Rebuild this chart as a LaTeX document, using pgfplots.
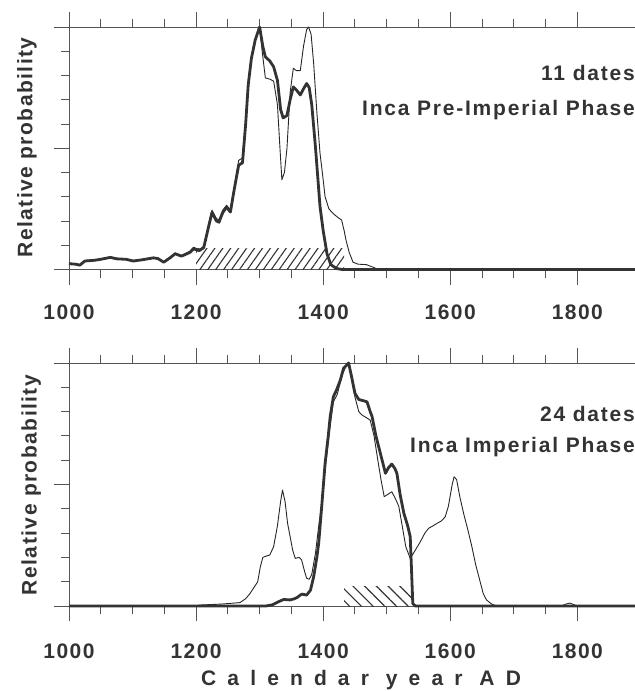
\documentclass[border=0pt]{standalone}
\usepackage{fontspec}
\setmainfont{Liberation Sans}
\newfontfamily\lab{Liberation Sans}[LetterSpace=7]
\newfontfamily\note{Liberation Sans}[LetterSpace=8.5]
\newfontfamily\ylab{Liberation Sans}[LetterSpace=7]
\newfontfamily\wide{Liberation Sans}[LetterSpace=53]
\usepackage{pgfplots}
\pgfplotsset{compat=1.18}
\usetikzlibrary{patterns.meta}
\definecolor{ink}{HTML}{333333}
\definecolor{axgray}{HTML}{555555}

\pgfplotsset{panel/.style={
  scale only axis, width=570bp,
  xmin=1000, xmax=1897, ymin=0, ymax=1,
  axis line style={axgray, line width=1bp},
  tick style={axgray, line width=1bp},
  tick align=outside,
  major tick length=15bp, minor tick length=8bp,
  xtick={1000,1200,1400,1600,1800}, minor x tick num=3,
  xticklabels={1000,1200,1400,1600,1800},
  ytick={0,0.5,1}, minor y tick num=4, yticklabels={},
  ytick pos=left,
  xticklabel style={font=\fontsize{21bp}{25bp}\selectfont\lab\bfseries, text=ink},
  clip=false,
},
thick curve/.style={ink, line width=2.8bp, line join=round},
thin curve/.style={black!85, line width=0.9bp, line join=round},
}

\begin{document}
\begin{tikzpicture}
\useasboundingbox (0,0) rectangle (635bp,-691bp);

% upper panel: pre-imperial phase
\begin{axis}[panel, height=242.5bp, at={(69bp,-269.5bp)}, anchor=south west,
  xticklabel style={yshift=-17bp}]
\addplot[draw=none, pattern={Lines[angle=55,distance=6.5bp,line width=1.1bp]}, pattern color=ink]
  coordinates {(1200,0.087) (1433,0.087)} \closedcycle;
\addplot[thin curve] coordinates {
(1000,0.026) (1010,0.024) (1017,0.02) (1025,0.037) (1040,0.04) (1050,0.044)
(1065,0.052) (1075,0.046) (1090,0.044) (1101,0.037) (1115,0.042) (1133,0.05)
(1140,0.047) (1149,0.032) (1160,0.052) (1167,0.068) (1177,0.058) (1190,0.075)
(1196,0.092) (1205,0.082) (1212,0.095) (1220,0.19) (1225,0.245) (1232,0.21)
(1236,0.205) (1242,0.245) (1248,0.265) (1254,0.245) (1260,0.34) (1267,0.45)
(1273,0.46) (1278,0.62) (1282,0.77) (1287,0.88) (1293,0.95) (1300,1.0)
(1304,0.9) (1309,0.79) (1316,0.785) (1322,0.777) (1328,0.68) (1332,0.5)
(1335,0.37) (1339,0.4) (1343,0.5) (1348,0.73) (1353,0.83) (1358,0.82)
(1364,0.82) (1369,0.92) (1374,0.99) (1377,1.0) (1381,0.97) (1385,0.85)
(1390,0.65) (1395,0.48) (1400,0.37) (1403,0.3) (1409,0.25) (1416,0.23)
(1423,0.215) (1429,0.204) (1433,0.16) (1436,0.12) (1441,0.07) (1447,0.03)
(1455,0.022) (1468,0.02) (1478,0.01) (1487,0) (1900,0)
};
\addplot[thick curve] coordinates {
(1000,0.024) (1010,0.022) (1017,0.018) (1025,0.035) (1040,0.038) (1050,0.042)
(1065,0.05) (1075,0.044) (1090,0.042) (1101,0.035) (1115,0.04) (1133,0.048)
(1140,0.045) (1149,0.03) (1160,0.05) (1167,0.065) (1177,0.055) (1190,0.07)
(1196,0.085) (1205,0.078) (1212,0.09) (1220,0.18) (1225,0.235) (1232,0.2)
(1236,0.195) (1242,0.235) (1248,0.257) (1254,0.237) (1260,0.33) (1267,0.43)
(1273,0.44) (1278,0.6) (1282,0.76) (1287,0.87) (1293,0.946) (1300,1.0)
(1305,0.92) (1309,0.877) (1316,0.86) (1322,0.836) (1328,0.78) (1333,0.66)
(1337,0.625) (1343,0.635) (1348,0.7) (1353,0.753) (1358,0.74) (1364,0.72)
(1369,0.745) (1374,0.767) (1378,0.75) (1382,0.68) (1388,0.5) (1395,0.26)
(1400,0.16) (1406,0.065) (1412,0.02) (1421,0.004) (1430,0) (1900,0)
};
\end{axis}

% lower panel: imperial phase
\begin{axis}[panel, height=243bp, at={(69bp,-606bp)}, anchor=south west,
  xticklabel style={yshift=-19bp}]
\addplot[draw=none, pattern={Lines[angle=-45,distance=8.3bp,line width=1.1bp]}, pattern color=ink]
  coordinates {(1433,0.079) (1541,0.079)} \closedcycle;
\addplot[thin curve] coordinates {
(1000,0) (1200,0) (1206,0.004) (1240,0.008) (1269,0.014) (1278,0.03)
(1285,0.052) (1292,0.08) (1297,0.1) (1301,0.16) (1305,0.2) (1310,0.205)
(1316,0.21) (1322,0.244) (1328,0.33) (1333,0.43) (1336,0.477) (1340,0.43)
(1344,0.34) (1348,0.285) (1352,0.23) (1356,0.196) (1362,0.2) (1366,0.19)
(1371,0.14) (1374,0.114) (1378,0.11) (1382,0.13) (1388,0.22) (1393,0.33)
(1398,0.43) (1403,0.56) (1410,0.72) (1416,0.84) (1422,0.87) (1430,0.95)
(1436,0.99) (1440,1.0) (1445,0.93) (1450,0.86) (1456,0.8) (1461,0.786)
(1468,0.775) (1474,0.765) (1480,0.7) (1486,0.6) (1491,0.52) (1496,0.45)
(1502,0.46) (1508,0.47) (1514,0.44) (1519,0.41) (1525,0.32) (1530,0.244)
(1537,0.196) (1545,0.23) (1553,0.265) (1560,0.3) (1566,0.32) (1573,0.33)
(1579,0.34) (1586,0.35) (1592,0.367) (1597,0.41) (1603,0.5) (1606,0.532)
(1610,0.52) (1615,0.45) (1621,0.381) (1628,0.31) (1634,0.244) (1640,0.17)
(1647,0.1) (1652,0.05) (1657,0.025) (1665,0.008) (1673,0) (1775,0)
(1782,0.008) (1788,0.012) (1795,0.005) (1800,0) (1900,0)
};
\addplot[thick curve] coordinates {
(1000,0) (1310,0) (1320,0.005) (1330,0.018) (1338,0.027) (1348,0.025)
(1355,0.03) (1359,0.035) (1364,0.045) (1367,0.049) (1374,0.045) (1380,0.065)
(1385,0.12) (1390,0.2) (1393,0.26) (1398,0.42) (1403,0.587) (1408,0.7)
(1411,0.779) (1416,0.861) (1421,0.889) (1427,0.93) (1432,0.978) (1440,1.0)
(1445,0.94) (1450,0.875) (1456,0.85) (1463,0.845) (1469,0.84) (1474,0.8)
(1477,0.779) (1483,0.7) (1490,0.628) (1498,0.546) (1503,0.57) (1508,0.584)
(1513,0.565) (1516,0.546) (1521,0.46) (1527,0.381) (1533,0.33) (1537,0.285)
(1539,0.15) (1541,0.01) (1545,0) (1900,0)
};
\end{axis}

\begin{scope}[every node/.style={text=ink, inner sep=0pt}]
\node[rotate=90, anchor=base, font=\fontsize{21bp}{25bp}\selectfont\ylab\bfseries] at (32.3bp,-147.5bp) {Relative probability};
\node[rotate=90, anchor=base, font=\fontsize{21bp}{25bp}\selectfont\ylab\bfseries] at (36.7bp,-485bp) {Relative probability};
\node[anchor=base east, font=\fontsize{21bp}{25bp}\selectfont\note\bfseries] at (635bp,-80bp) {11 dates};
\node[anchor=base east, font=\fontsize{21bp}{25bp}\selectfont\note\bfseries] at (635bp,-115bp) {Inca Pre-Imperial Phase};
\node[anchor=base east, font=\fontsize{21bp}{25bp}\selectfont\note\bfseries] at (635bp,-421.7bp) {24 dates};
\node[anchor=base east, font=\fontsize{21bp}{25bp}\selectfont\note\bfseries] at (635bp,-452.5bp) {Inca Imperial Phase};
\node[anchor=base west, font=\fontsize{21bp}{25bp}\selectfont\wide\bfseries] at (201bp,-685bp) {Calendar year AD};
\end{scope}
\end{tikzpicture}
\end{document}
